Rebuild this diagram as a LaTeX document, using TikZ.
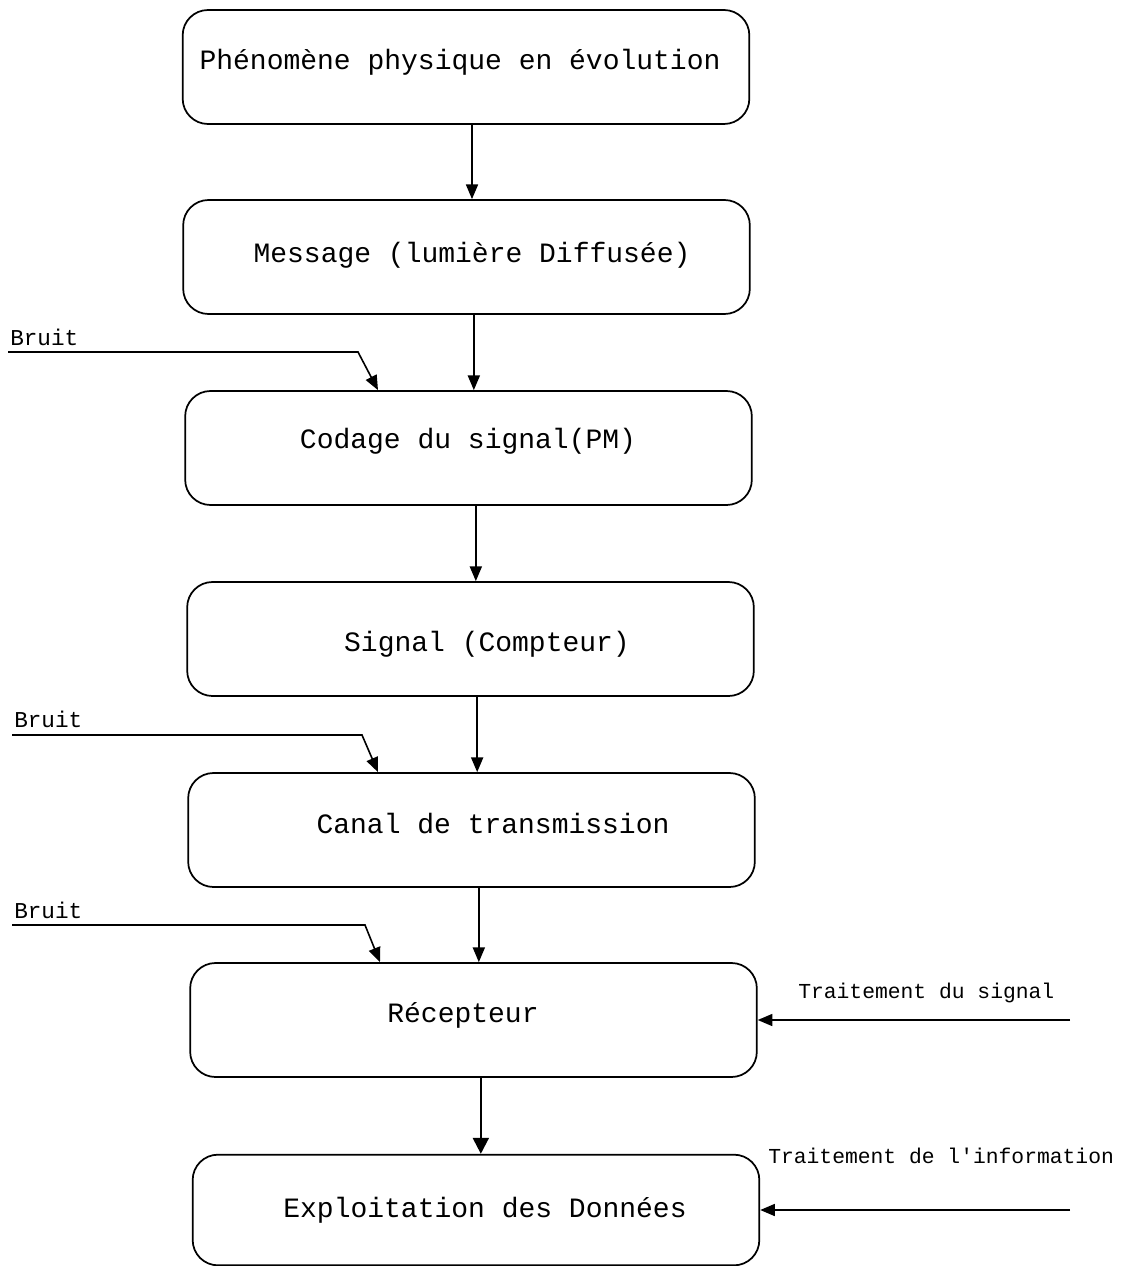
\documentclass[tikz,border=0pt]{standalone}
\usepackage{fontspec}
\setmainfont{Liberation Mono}
\usetikzlibrary{arrows.meta,calc}
\begin{document}
\begin{tikzpicture}[x=0.75pt,y=-0.75pt,
  box/.style={draw,line width=1.3pt,rounded corners=19pt,minimum width=425pt,minimum height=85.5pt,inner sep=0pt},
  boxtext/.style={font=\fontsize{21}{25}\selectfont,inner sep=0pt,anchor=center},
  side/.style={font=\fontsize{17}{20}\selectfont,inner sep=0pt},
  side2/.style={font=\fontsize{16}{19}\selectfont,inner sep=0pt},
  arr/.style={line width=1.2pt,-{Triangle[length=11pt,width=9pt]}},
  bigarr/.style={line width=1.6pt,-{Triangle[length=12pt,width=12pt]}}]
\useasboundingbox (0,0) rectangle (1124,1266);
% boxes
\node[box] (b1) at (466,67) {};
\node[box] (b2) at (466.5,257) {};
\node[box] (b3) at (468.5,448) {};
\node[box] (b4) at (470.5,639) {};
\node[box] (b5) at (471.5,830) {};
\node[box] (b6) at (473.5,1020) {};
\node[box,minimum height=83pt] (b7) at (476,1210) {};
% texts
\node[boxtext] (t1) at (460,62) {Phénomène physique en évolution};
\node[boxtext] (t2) at (472,255) {Message (lumière Diffusée)};
\node[boxtext] (t3) at (468,441) {Codage du signal(PM)};
\node[boxtext] (t4) at (487,644) {Signal (Compteur)};
\node[boxtext] (t5) at (493,824) {Canal de transmission};
\node[boxtext] (t6) at (463,1015) {Récepteur};
\node[boxtext] (t7) at (485,1210) {Exploitation des Données};
% vertical arrows
\draw[arr] ([xshift=4.5pt]b1.south) -- ([xshift=4.5pt]b1.south |- b2.north);
\draw[arr] ([xshift=5.5pt]b2.south) -- ([xshift=5.5pt]b2.south |- b3.north);
\draw[arr] ([xshift=5.5pt]b3.south) -- ([xshift=5.5pt]b3.south |- b4.north);
\draw[arr] ([xshift=5pt]b4.south) -- ([xshift=5pt]b4.south |- b5.north);
\draw[arr] ([xshift=5.5pt]b5.south) -- ([xshift=5.5pt]b5.south |- b6.north);
\draw[bigarr] ([xshift=5.5pt]b6.south) -- ([xshift=5.5pt]b6.south |- b7.north);
% Bruit inputs
\node[side,anchor=base west] (n1) at (10,345) {Bruit};
\coordinate (n1s) at (8,352);
\coordinate (n1k) at (358,352);
\coordinate (n1e) at (378,0);
\draw[arr] (n1s) -- (n1k) -- (n1e |- b3.north);
\node[side,anchor=base west] (n2) at (14,727) {Bruit};
\coordinate (n2s) at (12,735);
\coordinate (n2k) at (362,735);
\coordinate (n2e) at (378,0);
\draw[arr] (n2s) -- (n2k) -- (n2e |- b5.north);
\node[side,anchor=base west] (n3) at (14,918) {Bruit};
\coordinate (n3s) at (12,925);
\coordinate (n3k) at (365,925);
\coordinate (n3e) at (380,0);
\draw[arr] (n3s) -- (n3k) -- (n3e |- b6.north);
% Traitement inputs
\node[side2,anchor=base west] (s1) at (798,998) {Traitement du signal};
\coordinate (s1s) at (1070,1020);
\draw[arr] (s1s) -- (s1s -| b6.east);
\node[side2,anchor=base west] (s2) at (768,1163) {Traitement de l\textquotesingle information};
\coordinate (s2s) at (1070,1210);
\draw[arr] (s2s) -- (s2s -| b7.east);
\end{tikzpicture}
\end{document}
